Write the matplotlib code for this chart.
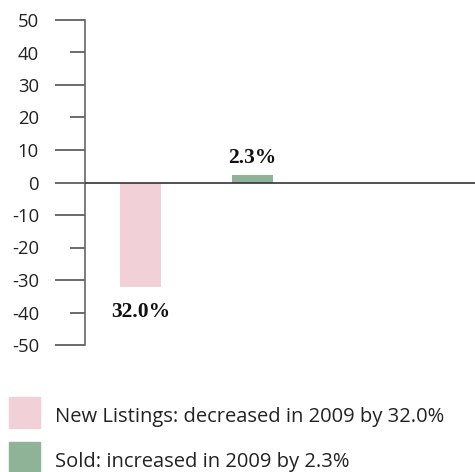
import matplotlib
matplotlib.use("Agg")
import matplotlib.pyplot as plt
import matplotlib.patches as patches
from matplotlib.ticker import FixedLocator, FixedFormatter

# data
categories = ["New Listings", "Sold"]
changes = [-32.0, 2.3]
bar_labels = ["32.0%", "2.3%"]
bar_colors = ["#F2D0D7", "#8FB396"]
legend_texts = ["New Listings: decreased in 2009 by 32.0%",
                "Sold: increased in 2009 by 2.3%"]
major_ticks = [50, 30, 10, 0, -10, -30, -50]
minor_ticks = [40, 20, -20, -40]

plt.rcParams['font.family'] = ['Open Sans', 'DejaVu Sans']

fig = plt.figure(figsize=(4.75, 4.72), dpi=100)
ax = fig.add_axes([85/475, 127/472, 390/475, 325/472])

xpos = list(range(len(categories)))
ax.bar(xpos, changes, width=0.366, color=bar_colors, zorder=2)

ax.set_xlim(-0.4955, 2.987)
ax.set_ylim(-50, 50)

for s in ["top", "right", "bottom"]:
    ax.spines[s].set_visible(False)
ax.spines["left"].set_color("#666666")
ax.spines["left"].set_linewidth(1.2)
ax.axhline(0, color="#333333", lw=1.2, zorder=3)
ax.set_xticks([])

ax.yaxis.set_major_locator(FixedLocator(major_ticks))
ax.yaxis.set_major_formatter(FixedFormatter([str(t) for t in major_ticks]))
ax.yaxis.set_minor_locator(FixedLocator(minor_ticks))
ax.yaxis.set_minor_formatter(FixedFormatter([str(t) for t in minor_ticks]))
ax.tick_params(axis="y", which="major", length=21.6, width=1.1, pad=11.5,
               labelsize=13.3, colors="#222222")
ax.tick_params(axis="y", which="minor", length=10.8, width=1.1, pad=22.3,
               labelsize=13.3, colors="#222222")
ax.tick_params(axis="y", which="both", color="#444444")

for x, v, lab in zip(xpos, changes, bar_labels):
    off = 8.6 if v > 0 else -22.0
    ax.annotate(lab, (x, v), xytext=(0, off), textcoords="offset points",
                ha="center", va="baseline", fontsize=15.5, fontweight="bold",
                family="Liberation Serif", color="#111111")

# legend
for i, (txt, col) in enumerate(zip(legend_texts, bar_colors)):
    top = 397 + i * 45
    fig.add_artist(patches.Rectangle((9/475, (472 - top - 31)/472), 31/475, 31/472,
                                     transform=fig.transFigure, color=col))
    fig.text(55/475, (472 - (422 + i * 44.5))/472, txt, fontsize=14.5,
             va="baseline", ha="left", color="#222222")

fig.savefig("out.png", dpi=100)
